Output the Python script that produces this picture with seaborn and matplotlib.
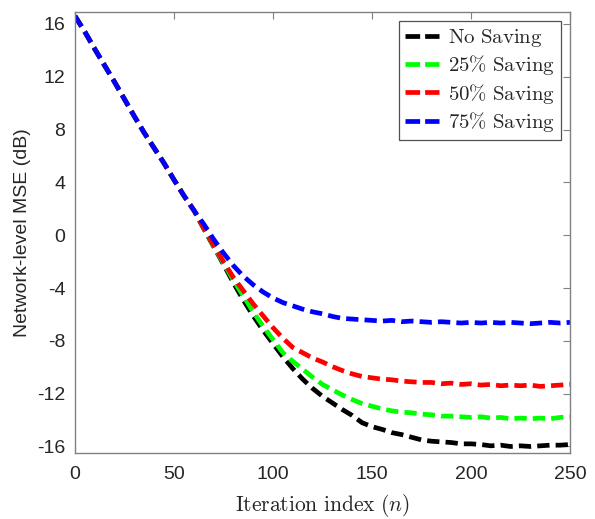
import numpy as np
import pandas as pd
import matplotlib
matplotlib.use("Agg")
import matplotlib.pyplot as plt
import seaborn as sns

iters = list(range(0, 251, 5))

common = [16.6, 15.4, 14.1, 12.85, 11.6, 10.3, 9.0, 7.75, 6.6, 5.45, 4.2, 3.0, 1.9]

no_saving = common + [0.5, -0.85, -2.2, -3.6, -4.9, -6.1, -7.2, -8.2, -9.2, -10.1, -10.9,
                      -11.6, -12.2, -12.7, -13.2, -13.65, -14.2, -14.5, -14.7, -14.95, -15.1,
                      -15.3, -15.5, -15.6, -15.65, -15.7, -15.8, -15.8, -15.85, -15.95, -15.9,
                      -16.0, -15.95, -16.0, -15.95, -15.9, -15.9, -15.85]
saving25 = common + [0.55, -0.8, -2.1, -3.4, -4.6, -5.8, -6.9, -7.9, -8.9, -9.55, -10.15,
                     -10.75, -11.3, -11.7, -12.1, -12.45, -12.75, -12.95, -13.15, -13.3, -13.4,
                     -13.45, -13.55, -13.6, -13.7, -13.7, -13.75, -13.8, -13.75, -13.85, -13.8,
                     -13.9, -13.85, -13.9, -13.85, -13.9, -13.8, -13.75]
saving50 = common + [0.55, -0.75, -2.0, -3.2, -4.2, -5.2, -6.1, -7.0, -7.8, -8.5, -8.9,
                     -9.3, -9.6, -9.95, -10.25, -10.5, -10.7, -10.8, -10.9, -10.95, -11.05,
                     -11.1, -11.15, -11.15, -11.25, -11.2, -11.3, -11.25, -11.35, -11.3, -11.4,
                     -11.35, -11.4, -11.35, -11.45, -11.4, -11.35, -11.3]
saving75 = common + [0.85, -0.3, -1.35, -2.3, -3.1, -3.75, -4.3, -4.75, -5.1, -5.35, -5.6,
                     -5.8, -5.95, -6.15, -6.3, -6.35, -6.4, -6.45, -6.5, -6.45, -6.55,
                     -6.5, -6.55, -6.6, -6.55, -6.6, -6.65, -6.6, -6.65, -6.6, -6.65,
                     -6.6, -6.65, -6.7, -6.65, -6.6, -6.65, -6.6]

labels = [r'$\mathrm{No\ Saving}$', r'$\mathrm{25\%\ Saving}$',
          r'$\mathrm{50\%\ Saving}$', r'$\mathrm{75\%\ Saving}$']
colors = ['#000000', '#00ff00', '#ff0000', '#0000ff']
series = [no_saving, saving25, saving50, saving75]

x_ticks = [0, 50, 100, 150, 200, 250]
y_ticks = [-16, -12, -8, -4, 0, 4, 8, 12, 16]

sns.set_style("white")
plt.rcParams['font.family'] = ['Liberation Sans', 'DejaVu Sans']
plt.rcParams['mathtext.fontset'] = 'cm'

fig = plt.figure(figsize=(5.95, 5.19), dpi=100)
ax = fig.add_axes([0.126, 0.127, 0.832, 0.8505])

LW = 3.4
for ys, lab, col in zip(series, labels, colors):
    df = pd.DataFrame({'n': iters, 'mse': ys})
    sns.lineplot(data=df, x='n', y='mse', ax=ax, color=col, label=lab,
                 linewidth=LW, dashes=False)
for line in ax.get_lines():
    line.set_dashes((2.6, 1.3))

ax.set_xlim(0, 250)
ax.set_ylim(-16.5, 16.93)
ax.set_xticks(x_ticks)
ax.set_yticks(y_ticks)
ax.set_yticklabels([str(v) for v in y_ticks])
ax.tick_params(direction='in', length=5, width=0.8, colors='#808080',
               labelcolor='#262626', labelsize=14, top=True, right=True)
ax.tick_params(axis='x', pad=9)
ax.tick_params(axis='y', pad=7)
for sp in ax.spines.values():
    sp.set_visible(True)
    sp.set_color('#808080')
    sp.set_linewidth(1.0)

ax.set_xlabel(r'$\mathrm{Iteration\ index}\ (n)$', fontsize=15.5, color='#262626',
              labelpad=7)
ax.set_ylabel('Network-level MSE (dB)', fontsize=14, color='#262626', labelpad=4)

leg = ax.legend(loc='upper right', fontsize=15, frameon=True, fancybox=False,
                handlelength=1.65, handletextpad=0.4, borderpad=0.3,
                labelspacing=0.2, borderaxespad=0.45)
leg.get_frame().set_edgecolor('#262626')
leg.get_frame().set_linewidth(0.9)
for h in leg.get_lines():
    h.set_linewidth(LW)
    h.set_dashes((3.1, 1.06))

fig.savefig('out.png', dpi=100)
